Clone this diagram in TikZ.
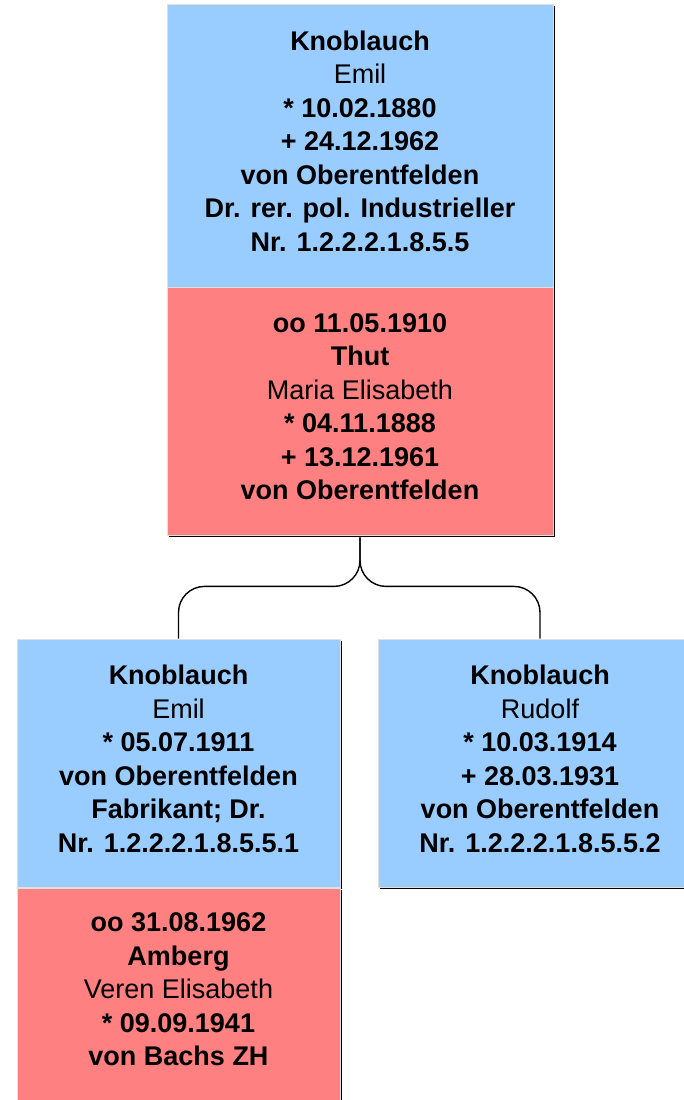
\documentclass[tikz,border=0pt]{standalone}
\usepackage{fontspec}
\setmainfont{Liberation Sans}
\usetikzlibrary{positioning, calc, shadows}
\definecolor{manblue}{HTML}{99CCFF}
\definecolor{wifered}{HTML}{FF8080}
\tikzset{
    card/.style={rectangle, draw=black!12, line width=0.8pt, inner sep=0pt, align=center,
        font=\fontsize{27}{33.5}\selectfont, text depth=9pt,
        drop shadow={shadow xshift=2.2pt, shadow yshift=-2.2pt, fill=black, opacity=1}},
    man/.style={card, fill=manblue},
    wife/.style={card, fill=wifered},
    link/.style={draw, line width=1.4pt, rounded corners=26pt}
}

\begin{document}
\begin{tikzpicture}[x=1pt, y=-1pt]
        \useasboundingbox (0,0) rectangle (684,1100);
        \clip (0,0) rectangle (684,1100);
        %Parents
        \node[man, minimum width=386pt, minimum height=283pt] (emil) at (360,145.5)
            {\textbf{Knoblauch}\\Emil\\\textbf{* 10.02.1880}\\\textbf{+ 24.12.1962}\\\textbf{von Oberentfelden}\\\textbf{Dr. rer. pol. Industrieller}\\\textbf{Nr. 1.2.2.2.1.8.5.5}};
        \node[wife, minimum width=386pt, minimum height=248pt] (thut) at (360,411)
            {\textbf{oo 11.05.1910}\\\textbf{Thut}\\Maria Elisabeth\\\textbf{* 04.11.1888}\\\textbf{+ 13.12.1961}\\\textbf{von Oberentfelden}};
        %Children
        \node[man, minimum width=323pt, minimum height=248pt] (emiljr) at (178.5,763)
            {\textbf{Knoblauch}\\Emil\\\textbf{* 05.07.1911}\\\textbf{von Oberentfelden}\\\textbf{Fabrikant; Dr.}\\\textbf{Nr. 1.2.2.2.1.8.5.5.1}};
        \node[wife, minimum width=323pt, minimum height=212pt] (amberg) at (178.5,994)
            {\textbf{oo 31.08.1962}\\\textbf{Amberg}\\Veren Elisabeth\\\textbf{* 09.09.1941}\\\textbf{von Bachs ZH}};
        \node[man, minimum width=324pt, minimum height=248pt] (rudolf) at (540,763)
            {\textbf{Knoblauch}\\Rudolf\\\textbf{* 10.03.1914}\\\textbf{+ 28.03.1931}\\\textbf{von Oberentfelden}\\\textbf{Nr. 1.2.2.2.1.8.5.5.2}};
        %Extra coordinate for the fork
        \coordinate (fork) at ($(thut.south)+(0,51)$);
        %Paths
        \path[link] ([yshift=-2pt]thut.south) -- (fork) -| (emiljr.north);
        \path[link] ([yshift=-2pt]thut.south) -- (fork) -| (rudolf.north);
\end{tikzpicture}
\end{document}
